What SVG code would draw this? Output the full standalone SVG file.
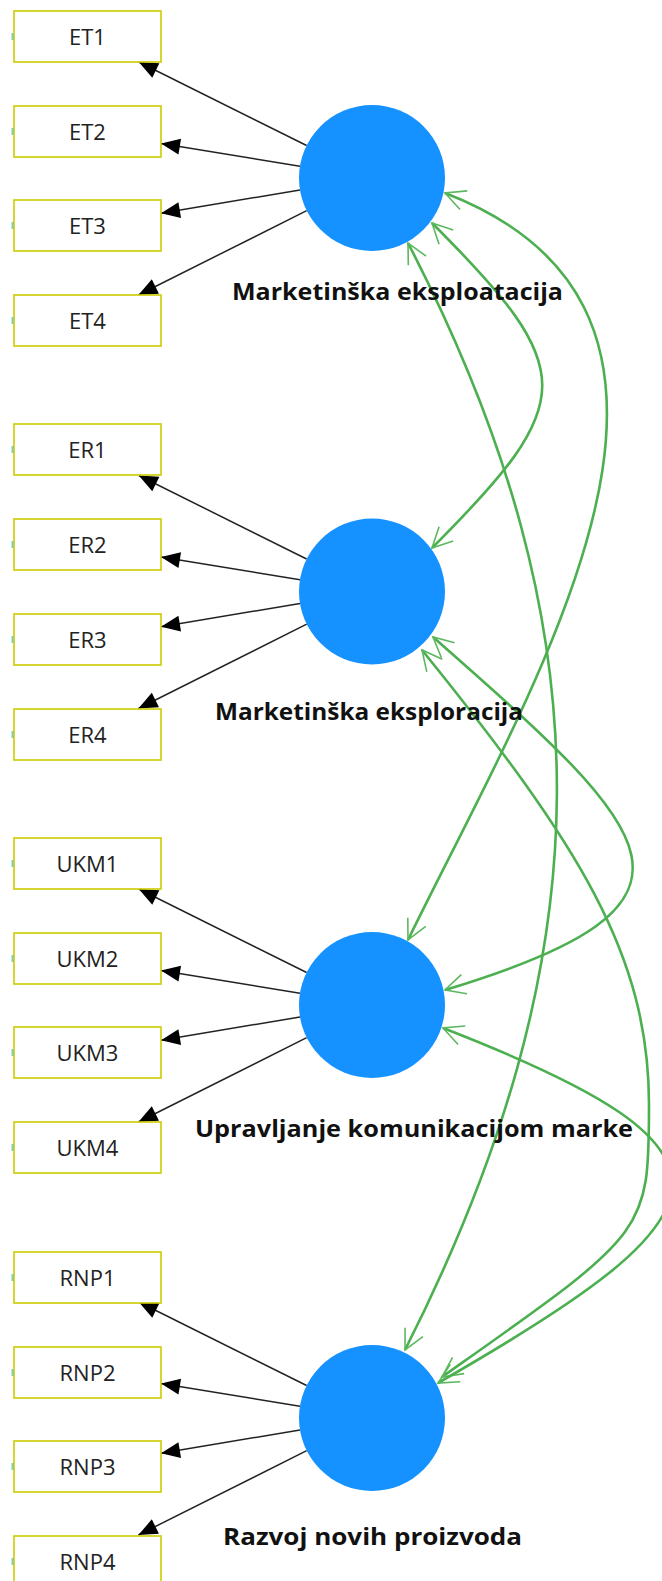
<svg xmlns="http://www.w3.org/2000/svg" width="662" height="1581" viewBox="0 0 662 1581">
<style>
.box rect.frame{fill:#fff;stroke:#cccc00;stroke-width:1.6}
.box rect.tick{fill:#7ccfcf;stroke:none}
.box text{font-family:"Open Sans","Noto Sans",sans-serif;font-size:22px;fill:#222;text-anchor:middle}
.lv circle{fill:#1592ff}
.lv text{font-family:"Open Sans","Noto Sans",sans-serif;font-size:23px;font-weight:bold;fill:#111;text-anchor:middle}
.ld{stroke:#222;stroke-width:1.5;fill:none;marker-end:url(#tri)}
.cov{stroke:#4caf50;stroke-width:2.6;fill:none;marker-start:url(#vee);marker-end:url(#vee)}
</style>
<defs>
<marker id="tri" markerUnits="userSpaceOnUse" markerWidth="24" markerHeight="20" refX="0" refY="0" orient="auto" overflow="visible"><path d="M0,0 L-19,-8 L-19,8 Z" fill="#000"/></marker>
<marker id="vee" markerUnits="userSpaceOnUse" markerWidth="24" markerHeight="24" refX="0" refY="0" orient="auto-start-reverse" overflow="visible"><path d="M-20,-10 L0,0 L-20,10" fill="none" stroke="#5cb85f" stroke-width="1.6"/></marker>
</defs>

<g id="connectors">
<line class="ld" x1="306.6" y1="145.5" x2="138.8" y2="62"/>
<line class="ld" x1="300" y1="166.2" x2="161" y2="143.5"/>
<line class="ld" x1="300" y1="190" x2="161" y2="213.2"/>
<line class="ld" x1="306.7" y1="210.7" x2="138.4" y2="295"/>
<line class="ld" x1="306.6" y1="559" x2="138.8" y2="475.5"/>
<line class="ld" x1="300" y1="579.7" x2="161" y2="557"/>
<line class="ld" x1="300" y1="603.5" x2="161" y2="626.7"/>
<line class="ld" x1="306.7" y1="624.2" x2="138.4" y2="708.5"/>
<line class="ld" x1="306.6" y1="972.5" x2="138.8" y2="889"/>
<line class="ld" x1="300" y1="993.2" x2="161" y2="970.5"/>
<line class="ld" x1="300" y1="1017" x2="161" y2="1040.2"/>
<line class="ld" x1="306.7" y1="1037.7" x2="138.4" y2="1122"/>
<line class="ld" x1="306.6" y1="1385.5" x2="138.8" y2="1302"/>
<line class="ld" x1="300" y1="1406.2" x2="161" y2="1383.5"/>
<line class="ld" x1="300" y1="1430" x2="161" y2="1453.2"/>
<line class="ld" x1="306.7" y1="1450.7" x2="138.4" y2="1535"/>
<path class="cov" d="M445,193 C761,315 540,670 408,940"/>
<path class="cov" d="M432,223 C579,370 579,401 432,548"/>
<path class="cov" d="M408,243 C611,635 603,958 405,1350"/>
<path class="cov" d="M433,637 C658,835 733,903 445,990"/>
<path class="cov" d="M422,650 C579.5,845 649,955 649,1105 C649,1235 647,1232 442,1377"/>
<path class="cov" d="M443,1028 C762,1152 736,1212 438,1383"/>
</g>

<g id="ET1" class="box"><rect class="tick" x="11.5" y="33" width="2.5" height="7"/><rect class="frame" x="14" y="11" width="147" height="51"/><text x="87.5" y="45">ET1</text></g>
<g id="ET2" class="box"><rect class="tick" x="11.5" y="128" width="2.5" height="7"/><rect class="frame" x="14" y="106" width="147" height="51"/><text x="87.5" y="140">ET2</text></g>
<g id="ET3" class="box"><rect class="tick" x="11.5" y="222" width="2.5" height="7"/><rect class="frame" x="14" y="200" width="147" height="51"/><text x="87.5" y="234">ET3</text></g>
<g id="ET4" class="box"><rect class="tick" x="11.5" y="317" width="2.5" height="7"/><rect class="frame" x="14" y="295" width="147" height="51"/><text x="87.5" y="329">ET4</text></g>

<g id="ER1" class="box"><rect class="tick" x="11.5" y="446" width="2.5" height="7"/><rect class="frame" x="14" y="424" width="147" height="51"/><text x="87.5" y="458">ER1</text></g>
<g id="ER2" class="box"><rect class="tick" x="11.5" y="541" width="2.5" height="7"/><rect class="frame" x="14" y="519" width="147" height="51"/><text x="87.5" y="553">ER2</text></g>
<g id="ER3" class="box"><rect class="tick" x="11.5" y="636" width="2.5" height="7"/><rect class="frame" x="14" y="614" width="147" height="51"/><text x="87.5" y="648">ER3</text></g>
<g id="ER4" class="box"><rect class="tick" x="11.5" y="731" width="2.5" height="7"/><rect class="frame" x="14" y="709" width="147" height="51"/><text x="87.5" y="743">ER4</text></g>

<g id="UKM1" class="box"><rect class="tick" x="11.5" y="860" width="2.5" height="7"/><rect class="frame" x="14" y="838" width="147" height="51"/><text x="87.5" y="872">UKM1</text></g>
<g id="UKM2" class="box"><rect class="tick" x="11.5" y="955" width="2.5" height="7"/><rect class="frame" x="14" y="933" width="147" height="51"/><text x="87.5" y="967">UKM2</text></g>
<g id="UKM3" class="box"><rect class="tick" x="11.5" y="1049" width="2.5" height="7"/><rect class="frame" x="14" y="1027" width="147" height="51"/><text x="87.5" y="1061">UKM3</text></g>
<g id="UKM4" class="box"><rect class="tick" x="11.5" y="1144" width="2.5" height="7"/><rect class="frame" x="14" y="1122" width="147" height="51"/><text x="87.5" y="1156">UKM4</text></g>

<g id="RNP1" class="box"><rect class="tick" x="11.5" y="1274" width="2.5" height="7"/><rect class="frame" x="14" y="1252" width="147" height="51"/><text x="87.5" y="1286">RNP1</text></g>
<g id="RNP2" class="box"><rect class="tick" x="11.5" y="1369" width="2.5" height="7"/><rect class="frame" x="14" y="1347" width="147" height="51"/><text x="87.5" y="1381">RNP2</text></g>
<g id="RNP3" class="box"><rect class="tick" x="11.5" y="1463" width="2.5" height="7"/><rect class="frame" x="14" y="1441" width="147" height="51"/><text x="87.5" y="1475">RNP3</text></g>
<g id="RNP4" class="box"><rect class="tick" x="11.5" y="1558" width="2.5" height="7"/><rect class="frame" x="14" y="1536" width="147" height="51"/><text x="87.5" y="1570">RNP4</text></g>

<g id="marketinska-eksploatacija" class="lv"><circle cx="372" cy="178" r="73"/><text x="397.5" y="300" textLength="331" lengthAdjust="spacingAndGlyphs">Marketinška eksploatacija</text></g>
<g id="marketinska-eksploracija" class="lv"><circle cx="372" cy="591.5" r="73"/><text x="369" y="720" textLength="308" lengthAdjust="spacingAndGlyphs">Marketinška eksploracija</text></g>
<g id="upravljanje-komunikacijom-marke" class="lv"><circle cx="372" cy="1005" r="73"/><text x="414" y="1137" textLength="438" lengthAdjust="spacingAndGlyphs">Upravljanje komunikacijom marke</text></g>
<g id="razvoj-novih-proizvoda" class="lv"><circle cx="372" cy="1418" r="73"/><text x="372.5" y="1545" textLength="299" lengthAdjust="spacingAndGlyphs">Razvoj novih proizvoda</text></g>
</svg>
